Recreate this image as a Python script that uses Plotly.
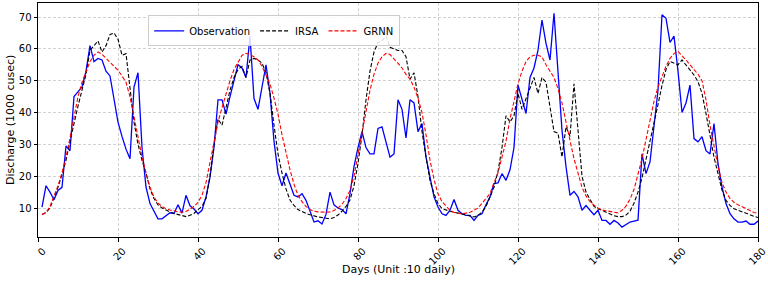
import plotly.graph_objects as go

days = list(range(1, 181))

observation = [
    10.3, 17, 15, 12.6, 15.5, 16.5, 29.5, 28, 45, 46.5,
    48, 53, 61, 56, 57, 56.5, 53, 51.5, 44, 37,
    32.5, 28.5, 25.5, 48, 52.5, 29, 16.6, 11.4, 9, 6.6,
    6.6, 7.7, 8.5, 8.3, 11, 8.4, 14, 10.7, 9.7, 8.2,
    9.3, 13.5, 19.7, 29, 44, 44, 39.5, 45, 50, 55,
    54, 51, 64, 44.4, 41, 48, 55, 46, 31, 21,
    17, 21, 17.5, 14, 13.5, 14.5, 12.4, 9, 5.6, 6,
    5, 8, 15, 11, 10, 9.5, 8.2, 14.5, 23, 29,
    34, 29, 27, 27, 35, 35.5, 31, 26, 27, 44,
    41, 32, 44, 43, 34, 36.5, 26, 20, 13.5, 10.3,
    8.2, 7.7, 9.3, 12.7, 9.3, 8.2, 7.7, 7.7, 6.1, 7.7,
    8.2, 11, 13.5, 17.7, 17.9, 20.8, 18.7, 22, 29, 48.6,
    44, 39.7, 51, 54, 59.6, 69, 61.7, 56.5, 71.2, 52.8,
    34.4, 23, 14, 15.2, 13.5, 9.3, 10.8, 9.3, 7.9, 9.3,
    6.1, 6.1, 4.9, 6.1, 5.3, 4.0, 4.9, 5.6, 5.9, 6.2,
    27, 20.8, 24.5, 35, 47, 70.7, 69.6, 62, 64, 53,
    40, 43, 48.6, 31.8, 30.8, 32.4, 28, 27, 36.5, 24,
    16.6, 11.4, 8.2, 6.6, 5.6, 5.6, 5.9, 4.9, 4.9, 5.9,
]

irsa = [
    8, 8.6, 10, 13, 16.5, 20.5, 25, 31, 37, 42,
    47, 52, 59.5, 61, 62.5, 59, 61, 64.5, 65, 63,
    58, 58.5, 48, 37, 30, 25, 21, 16, 13, 11,
    10, 9.3, 8.8, 8.3, 7.9, 7.5, 7.3, 7.7, 8.3, 9.5,
    10.5, 13, 20, 30, 38, 36, 42, 47, 51, 53.5,
    54.5, 51, 56.5, 57, 56.5, 55.5, 52.5, 46, 36, 27,
    21, 16, 12.5, 10.8, 9.5, 8.8, 8.3, 7.9, 7.5, 7.2,
    7, 6.8, 6.6, 7, 7.8, 9, 10.5, 12.5, 17, 24,
    33, 44, 53, 59, 62, 62.5, 64, 60.5, 60, 59.5,
    59.5, 57.5, 50.5, 52.5, 45, 34, 26, 18.7, 14.5, 11.4,
    9.8, 9.3, 9, 8.7, 8.4, 8.1, 7.7, 7.4, 7.2, 7.7,
    8.7, 10.5, 13.5, 16.5, 21.5, 29, 39, 37, 39, 46,
    41, 44.5, 47.5, 51, 46, 51, 49.5, 41.5, 34, 33.5,
    26, 35.5, 32.5, 49, 33, 20, 15, 12.5, 10.5, 9.8,
    9.2, 8.6, 8.1, 7.6, 7.3, 7.3, 7.8, 9, 11.5, 15,
    19.5, 25, 31, 37, 42.5, 48.5, 53.5, 56, 55.5, 55,
    56.5, 55, 53.3, 51.8, 49.7, 46, 39.7, 32.3, 26, 20.8,
    15.6, 12.4, 10.8, 9.8, 9.3, 8.7, 8.2, 7.7, 7.4, 7,
]

grnn = [
    8, 8.6, 10.5, 13.5, 17, 21, 26, 32, 39, 45,
    49.5, 53, 56, 58, 59, 58.3, 57, 55.8, 54.7, 53.3,
    51.5, 49.5, 45, 38.5, 32, 26, 21, 16.5, 13.5, 11.5,
    10.5, 9.8, 9.4, 9, 8.8, 8.7, 8.9, 9.6, 10.5, 11.8,
    14, 18, 24, 31, 37, 41.5, 46, 50, 53.5, 56,
    58, 58.6, 58.2, 57.5, 56.5, 54.5, 52, 49, 44.5, 39.5,
    33, 27, 22, 17.5, 14, 12, 10.5, 9.5, 9, 8.8,
    8.7, 8.7, 8.8, 9.2, 10, 11.2, 13, 15.5, 20, 27,
    34, 41, 47, 52, 55.5, 57.5, 58.6, 58.2, 57, 55.5,
    54, 52, 50.5, 48, 44.5, 40, 33, 25, 19, 14.5,
    12, 10.5, 9.3, 8.6, 8.3, 8.2, 8.4, 8.7, 9.3, 10,
    11.5, 13, 14.5, 18, 21, 26, 31, 38, 44, 49,
    53, 56, 57.5, 58, 58, 57.5, 55, 53, 51, 47.5,
    43, 37, 31, 25.5, 21, 16.5, 13.8, 12, 10.9, 10,
    9.4, 9.1, 8.8, 8.7, 8.5, 9.3, 10.6, 12.8, 15.8, 20.5,
    25.5, 31.5, 38, 43.5, 48, 51.5, 54.5, 57, 58.5, 59.2,
    58, 56.5, 55, 53.5, 52, 50, 44, 36, 29, 23,
    18, 15, 13, 11.8, 11, 10.3, 9.8, 9.2, 8.6, 8.4,
]

x_ticks = [0, 20, 40, 60, 80, 100, 120, 140, 160, 180]
y_ticks = [10, 20, 30, 40, 50, 60, 70]

FONT = "DejaVu Sans"

fig = go.Figure()
fig.add_trace(go.Scatter(x=days, y=observation, mode="lines", name="Observation",
                         line=dict(color="#0000ff", width=1.3)))
fig.add_trace(go.Scatter(x=days, y=irsa, mode="lines", name="IRSA",
                         line=dict(color="#000000", width=1.1, dash="4px,2px")))
fig.add_trace(go.Scatter(x=days, y=grnn, mode="lines", name="GRNN",
                         line=dict(color="#ff0000", width=1.1, dash="4px,2px")))

axis_common = dict(
    showline=True, linecolor="#000000", linewidth=1, mirror=True,
    ticks="outside", ticklen=3.5, tickcolor="#000000", tickwidth=1,
    showgrid=True, gridcolor="#d2d2d2", griddash="3px,2px", gridwidth=1,
    zeroline=False, automargin=False,
    tickfont=dict(family=FONT, size=10, color="#000000"),
)

fig.update_xaxes(range=[0, 180], tickvals=x_ticks, ticktext=[str(v) for v in x_ticks],
                 tickangle=-45, ticklabelshift=5, **axis_common)
fig.update_yaxes(range=[0.9, 74.4], tickvals=y_ticks, ticktext=[str(v) for v in y_ticks],
                 **axis_common)

fig.update_layout(
    width=768, height=281,
    margin=dict(l=38, r=10, t=3, b=44),
    plot_bgcolor="#ffffff", paper_bgcolor="#ffffff",
    font=dict(family=FONT, size=10, color="#000000"),
    legend=dict(orientation="h", x=0.153, xanchor="left", y=0.947, yanchor="top",
                bgcolor="rgba(255,255,255,0.85)", bordercolor="#cccccc", borderwidth=1,
                font=dict(family=FONT, size=10), itemwidth=30, tracegroupgap=0),
    showlegend=True,
    annotations=[
        dict(text="Days (Unit :10 daily)", xref="paper", yref="paper", x=0.5, y=-0.14,
             xanchor="center", yanchor="middle", showarrow=False,
             font=dict(family=FONT, size=11, color="#000000")),
        dict(text="Discharge (1000 cusec)", xref="paper", yref="paper", x=-0.039, y=0.5,
             xanchor="center", yanchor="middle", showarrow=False, textangle=-90,
             font=dict(family=FONT, size=11, color="#000000")),
    ],
)

fig.write_html("out.html", config={"displayModeBar": False},
               post_script="document.body.style.margin='0px';")
